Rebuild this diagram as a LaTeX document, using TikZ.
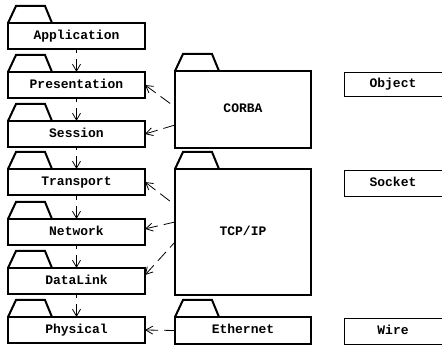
\documentclass[tikz,border=0pt]{standalone}
\usepackage{fontspec}
\setmonofont{Liberation Mono}
\usetikzlibrary{arrows.meta,calc}
\begin{document}
\begin{tikzpicture}[x=1pt,y=-1pt,
  label font/.style={font=\ttfamily\bfseries\fontsize{13}{13}\selectfont,
    text height=8pt, text depth=1pt},
  pkg/.style={draw, line width=2pt, outer sep=0pt, inner sep=0pt, anchor=north west, label font},
  layer/.style={pkg, minimum width=137pt, minimum height=26pt},
  tab/.style={line width=2pt, line join=miter},
  role/.style={draw, line width=0.8pt, outer sep=0pt, inner sep=0pt, anchor=north west,
    minimum width=98pt, label font},
  dep/.style={line width=0.8pt, dash pattern=on 12pt off 6pt,
    {Straight Barb[length=7pt,width=8pt]}-}
]
\useasboundingbox (0,0) rectangle (442,347);

% package tab on top of a package body
\newcommand\pkgtab[1]{\draw[tab] (#1.north west) -- ++(8,-17) -- ++(29,0) -- ++(7,17);}

% OSI layers
\node[layer] (app)   at (8,23)  {Application};
\node[layer] (pres)  at (8,72)  {Presentation};
\node[layer] (sess)  at (8,121) {Session};
\node[layer] (trans) at (8,169) {Transport};
\node[layer] (net)   at (8,219) {Network};
\node[layer] (dl)    at (8,268) {DataLink};
\node[layer] (phys)  at (8,317) {Physical};
\foreach \n in {app,pres,sess,trans,net,dl,phys} {\pkgtab{\n}}

% implementations
\node[pkg, minimum width=136pt, minimum height=77pt] (corba) at (175,71) {CORBA};
\node[pkg, minimum width=136pt, minimum height=126pt] (tcp) at (175,169) {TCP/IP};
\node[pkg, minimum width=136pt, minimum height=27pt] (eth) at (175,317) {Ethernet};
\foreach \n in {corba,tcp,eth} {\pkgtab{\n}}

% abstractions
\node[role, minimum height=24pt] (obj)  at (344,72)  {Object};
\node[role, minimum height=26pt] (sock) at (344,170) {Socket};
\node[role, minimum height=26pt] (wire) at (344,318) {Wire};

% layer dependencies
\draw[dep] (pres.north)  -- (app.south);
\draw[dep] (sess.north)  -- (pres.south);
\draw[dep] (trans.north) -- (sess.south);
\draw[dep] (net.north)   -- (trans.south);
\draw[dep] (dl.north)    -- (net.south);
\draw[dep] (phys.north)  -- (dl.south);

% implementation dependencies
\coordinate (c1) at ($(corba.north west)+(0,36)$);
\coordinate (c2) at ($(corba.north west)+(0,54)$);
\coordinate (t1) at ($(tcp.north west)+(0,36)$);
\coordinate (t2) at ($(tcp.north west)+(0,53)$);
\coordinate (t3) at ($(tcp.north west)+(0,73)$);
\coordinate (n1) at ($(net.north east)!0.38!(net.south east)$);
\coordinate (d1) at ($(dl.north east)!0.27!(dl.south east)$);

\draw[dep] (pres.east)  -- (c1);
\draw[dep] (sess.east)  -- (c2);
\draw[dep] (trans.east) -- (t1);
\draw[dep] (n1)         -- (t2);
\draw[dep] (d1)         -- (t3);
\draw[dep] (phys.east)  -- (eth.west);
\end{tikzpicture}
\end{document}
